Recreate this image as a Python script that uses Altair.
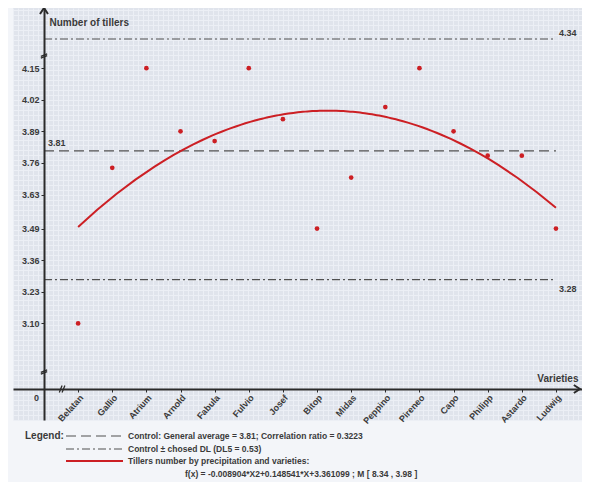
import json
import altair as alt
import pandas as pd

# ---------------- data ----------------
varieties = ["Belatan", "Gallio", "Atrium", "Arnold", "Fabula", "Fulvio", "Josef", "Bitop",
             "Midas", "Peppino", "Pireneo", "Capo", "Philipp", "Astardo", "Ludwig"]
tillers = [3.10, 3.74, 4.15, 3.89, 3.85, 4.15, 3.94, 3.49, 3.70, 3.99, 4.15, 3.89, 3.79, 3.79, 3.49]
positions = list(range(1, 16))

general_average = [3.81]
dl_limits = [4.34, 3.28]
y_tick_values = [3.10, 3.23, 3.36, 3.49, 3.63, 3.76, 3.89, 4.02, 4.15]
line_span = [0, 15]

legend_title = "Legend:"
legend_labels = [
    "Control: General average = 3.81; Correlation ratio = 0.3223",
    "Control \u00b1 chosed DL (DL5 = 0.53)",
    "Tillers number by precipitation and varieties:",
    "f(x) = -0.008904*X2+0.148541*X+3.361099 ; M [ 8.34 , 3.98 ]",
]

# ---------------- styling ----------------
FONT = "Liberation Sans, Arial, sans-serif"
TXT = "#3a3a3a"
AX = "#2b2b2b"
RED = "#cc1f24"
W, H = 569, 412

pts = pd.DataFrame({"idx": positions, "val": tillers, "name": varieties})
avg_df = pd.DataFrame({"idx": [line_span[0]], "idx2": [line_span[1]], "val": general_average})
dl_df = pd.DataFrame({"idx": [line_span[0]] * 2, "idx2": [line_span[1]] * 2, "val": dl_limits})
one = pd.DataFrame({"gx": [0], "gy": [0]})

xs = alt.Scale(domain=[-0.908, 15.763], nice=False, zero=False)
ys = alt.Scale(domain=[-0.1, 0, 2.9, 4.2, 4.34, 4.6], range=[412, 381, 364, 48, 31, 0],
               nice=False, zero=False)

x_axis = alt.Axis(
    values=positions, labelExpr=f"{json.dumps(varieties)}[datum.value - 1]",
    labelAngle=-48, labelAlign="right", labelBaseline="top", labelPadding=1,
    labelOverlap=False, labelFlush=False,
    tickSize=3, tickColor=AX, domainColor=AX, domainWidth=2, offset=-31,
    labelFont=FONT, labelFontSize=9, labelFontWeight="bold", labelColor=TXT,
    title="Varieties", titleX=565, titleY=-11, titleAlign="right", titleBaseline="middle",
    titleAngle=0, titleFont=FONT, titleFontSize=10, titleFontWeight="bold", titleColor=TXT,
    grid=False, zindex=1,
)
y_axis = alt.Axis(
    values=y_tick_values, format=".2f", tickSize=3, tickColor=AX, domainColor=AX,
    domainWidth=2, offset=-31, labelPadding=2, labelOverlap=False, labelFlush=False,
    labelFont=FONT, labelFontSize=9, labelFontWeight="bold", labelColor=TXT,
    title="Number of tillers", titleX=5, titleY=14, titleAngle=0, titleAlign="left",
    titleBaseline="middle", titleFont=FONT, titleFontSize=10, titleFontWeight="bold",
    titleColor=TXT, grid=False, zindex=1,
)

X = lambda f="idx:Q": alt.X(f, scale=xs)
Y = lambda f="val:Q": alt.Y(f, scale=ys)

# fine background grid (independent pixel-like scales)
grid = alt.Chart(one).mark_point(opacity=0).encode(
    x=alt.X("gx:Q", scale=alt.Scale(domain=[0, W], nice=False, zero=False),
            axis=alt.Axis(orient="top", grid=True, tickCount=114, labels=False, ticks=False,
                          domain=False, title=None, gridColor="#eceff5", gridWidth=1)),
    y=alt.Y("gy:Q", scale=alt.Scale(domain=[0, H], nice=False, zero=False),
            axis=alt.Axis(orient="right", grid=True, tickCount=82, labels=False, ticks=False,
                          domain=False, title=None, gridColor="#eceff5", gridWidth=1)),
)

points = alt.Chart(pts).mark_circle(size=22, color=RED, opacity=1).encode(
    x=alt.X("idx:Q", scale=xs, axis=x_axis),
    y=alt.Y("val:Q", scale=ys, axis=y_axis),
)

curve = alt.Chart(pts).transform_regression(
    "idx", "val", method="poly", order=2, extent=[1, 15]
).mark_line(color=RED, strokeWidth=2).encode(x=X(), y=Y())

avg_rule = alt.Chart(avg_df).mark_rule(strokeDash=[10, 5], color="#505050", strokeWidth=1.2).encode(
    x=X(), x2="idx2", y=Y())
dl_rule = alt.Chart(dl_df).mark_rule(strokeDash=[8, 3, 2, 3], color="#505050", strokeWidth=1.2).encode(
    x=X(), x2="idx2", y=Y())

lbl_kw = dict(font=FONT, fontSize=9, fontWeight="bold", color=TXT, align="left", baseline="middle")
avg_lbl = alt.Chart(avg_df).mark_text(dx=4, dy=-8, **lbl_kw).encode(
    x=X(), y=Y(), text=alt.Text("val:Q", format=".2f"))
top_lbl = alt.Chart(dl_df.iloc[[0]]).mark_text(dx=3, dy=-6, **lbl_kw).encode(
    x=X("idx2:Q"), y=Y(), text=alt.Text("val:Q", format=".2f"))
bot_lbl = alt.Chart(dl_df.iloc[[1]]).mark_text(dx=3, dy=9, **lbl_kw).encode(
    x=X("idx2:Q"), y=Y(), text=alt.Text("val:Q", format=".2f"))

zero_df = pd.DataFrame({"idx": [0], "val": [0]})
zero_lbl = alt.Chart(zero_df).mark_text(dx=-5, dy=9, font=FONT, fontSize=9, fontWeight="bold",
                                        color=TXT, align="right", baseline="middle").encode(
    x=X(), y=Y(), text=alt.Text("val:Q", format="d"))

# axis arrows and axis-break marks
arrow_y = alt.Chart(pd.DataFrame({"idx": [0], "val": [4.6]})).mark_point(
    shape="M-1,1.5L0,0L1,1.5", size=64, filled=False, stroke=AX, strokeWidth=2, opacity=1
).encode(x=X(), y=Y())
arrow_x = alt.Chart(pd.DataFrame({"idx": [15.7], "val": [0]})).mark_point(
    shape="M-1.5,-1L0,0L-1.5,1", size=64, filled=False, stroke=AX, strokeWidth=2, opacity=1
).encode(x=X(), y=Y())
ybreak = alt.Chart(pd.DataFrame({"idx": [0, 0], "val": [4.2, 2.9]})).mark_point(
    shape="M-1,0.1L1,-0.7M-1,0.7L1,-0.1", size=40, filled=False, stroke=AX, strokeWidth=1.3, opacity=1
).encode(x=X(), y=Y())
xbreak = alt.Chart(pd.DataFrame({"idx": [0.53], "val": [0]})).mark_point(
    shape="M-0.8,1L0,-1M0,1L0.8,-1", size=49, filled=False, stroke=AX, strokeWidth=1.3, opacity=1
).encode(x=X(), y=Y())

# legend block below the plot
leg_txt = dict(font=FONT, fontSize=8.5, fontWeight="bold", color=TXT, align="left", baseline="middle")
L = alt.Chart(pd.DataFrame({"k": [0]}))
legend = [
    L.mark_text(text=legend_title, font=FONT, fontSize=10, fontWeight="bold", color=TXT,
                align="left", baseline="middle").encode(x=alt.value(12), y=alt.value(428)),
    L.mark_rule(strokeDash=[10, 5], color="#505050", strokeWidth=1.2).encode(
        x=alt.value(53), x2=alt.value(110), y=alt.value(428)),
    L.mark_text(text=legend_labels[0], **leg_txt).encode(x=alt.value(115), y=alt.value(428)),
    L.mark_rule(strokeDash=[8, 3, 2, 3], color="#505050", strokeWidth=1.2).encode(
        x=alt.value(53), x2=alt.value(110), y=alt.value(441)),
    L.mark_text(text=legend_labels[1], **leg_txt).encode(x=alt.value(115), y=alt.value(441)),
    L.mark_rule(color=RED, strokeWidth=2).encode(
        x=alt.value(53), x2=alt.value(110), y=alt.value(453)),
    L.mark_text(text=legend_labels[2], **leg_txt).encode(x=alt.value(115), y=alt.value(453)),
    L.mark_text(text=legend_labels[3], **leg_txt).encode(x=alt.value(172), y=alt.value(466)),
]

inner = alt.layer(avg_rule, dl_rule, curve, points, avg_lbl, top_lbl, bot_lbl, zero_lbl,
                  arrow_y, arrow_x, ybreak, xbreak, *legend)

chart = alt.layer(grid, inner).resolve_scale(x="independent", y="independent").properties(
    width=W, height=H,
    autosize=alt.AutoSizeParams(type="none"),
    padding={"left": 5, "top": 0, "right": 0, "bottom": 62},
    background="#f3f5f9",
).configure_view(fill="#e0e4ec", stroke=None)

chart.save("out.html", embed_options={"renderer": "svg", "actions": False})
